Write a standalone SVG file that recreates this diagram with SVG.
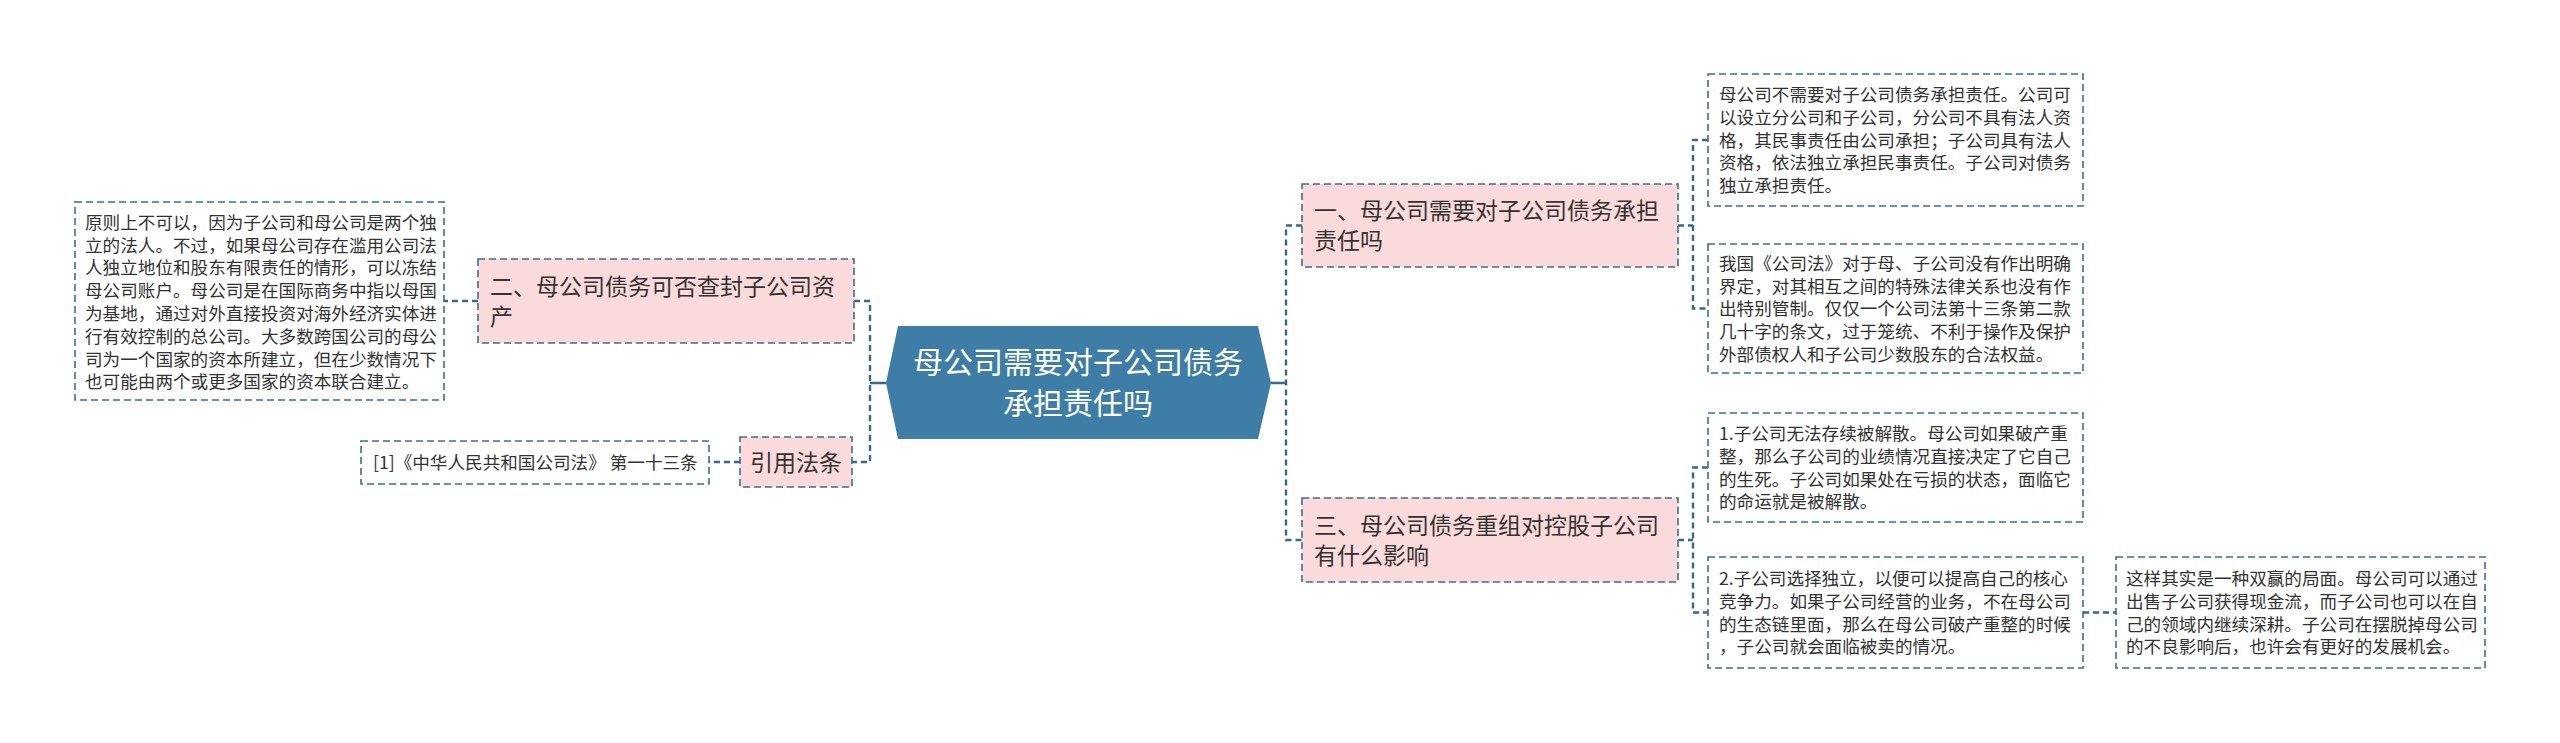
<svg xmlns="http://www.w3.org/2000/svg" width="2560" height="743" viewBox="0 0 2560 743">
<style>
text{font-family:"Noto Sans CJK SC","Noto Sans",sans-serif;fill:#333}
.t{font-size:17.6px}
.h{font-size:23px}
.c{font-size:30px;fill:#fff}
.box{fill:#fff;stroke:#3a6f92;stroke-width:1.6;stroke-dasharray:7 4}
.pk{fill:#fadada;stroke:#3a6f92;stroke-width:1.6;stroke-dasharray:7 4}
.ln{fill:none;stroke:#35698e;stroke-width:2.4;stroke-dasharray:6 4}
.sl{fill:none;stroke:#35698e;stroke-width:2.4}
</style>
<rect width="2560" height="743" fill="#fff"/>
<g id="connectors">
<path class="sl" d="M886 383H870M1271 383H1286"/>
<path class="ln" d="M854 301H870V462H852M870 301"/>
<path class="ln" d="M478 301H444"/>
<path class="ln" d="M740 462H709"/>
<path class="ln" d="M1302 225.5H1286V540H1302"/>
<path class="ln" d="M1678 225.5H1693M1708 140H1693V308.5H1708"/>
<path class="ln" d="M1678 540H1693M1708 467.5H1693V612.5H1708"/>
<path class="ln" d="M2083 612.5H2116"/>
</g>
<g id="root">
<polygon points="898,326 1258,326 1271,383 1258,439 898,439 886,383" fill="#3e7ea6"/>
<text class="c" x="1078" y="373" text-anchor="middle">母公司需要对子公司债务</text>
<text class="c" x="1078" y="414" text-anchor="middle">承担责任吗</text>
</g>
<g id="n2">
<rect class="pk" x="478" y="259" width="376" height="84"/>
<text class="h" x="490" y="294.7">二、母公司债务可否查封子公司资</text>
<text class="h" x="490" y="324.7">产</text>
</g>
<g id="n2a">
<rect class="box" x="75" y="202" width="369" height="198"/>
<text class="t" x="85" y="228.7">原则上不可以，因为子公司和母公司是两个独</text>
<text class="t" x="85" y="251.5">立的法人。不过，如果母公司存在滥用公司法</text>
<text class="t" x="85" y="274.3">人独立地位和股东有限责任的情形，可以冻结</text>
<text class="t" x="85" y="297.1">母公司账户。母公司是在国际商务中指以母国</text>
<text class="t" x="85" y="319.9">为基地，通过对外直接投资对海外经济实体进</text>
<text class="t" x="85" y="342.7">行有效控制的总公司。大多数跨国公司的母公</text>
<text class="t" x="85" y="365.5">司为一个国家的资本所建立，但在少数情况下</text>
<text class="t" x="85" y="388.3">也可能由两个或更多国家的资本联合建立。</text>
</g>
<g id="n4">
<rect class="pk" x="740" y="437" width="112" height="50"/>
<text class="h" x="796" y="470.7" text-anchor="middle">引用法条</text>
</g>
<g id="n4a">
<rect class="box" x="361" y="441" width="348" height="43"/>
<text class="t" x="373" y="469">[1]《中华人民共和国公司法》 第一十三条</text>
</g>
<g id="n1">
<rect class="pk" x="1302" y="184" width="376" height="83"/>
<text class="h" x="1314" y="219.2">一、母公司需要对子公司债务承担</text>
<text class="h" x="1314" y="249.2">责任吗</text>
</g>
<g id="n1a">
<rect class="box" x="1708" y="74" width="375" height="132"/>
<text class="t" x="1719" y="101.3">母公司不需要对子公司债务承担责任。公司可</text>
<text class="t" x="1719" y="124">以设立分公司和子公司，分公司不具有法人资</text>
<text class="t" x="1719" y="146.7">格，其民事责任由公司承担；子公司具有法人</text>
<text class="t" x="1719" y="169.4">资格，依法独立承担民事责任。子公司对债务</text>
<text class="t" x="1719" y="192.1">独立承担责任。</text>
</g>
<g id="n1b">
<rect class="box" x="1708" y="244" width="375" height="129"/>
<text class="t" x="1719" y="269.8">我国《公司法》对于母、子公司没有作出明确</text>
<text class="t" x="1719" y="292.5">界定，对其相互之间的特殊法律关系也没有作</text>
<text class="t" x="1719" y="315.2">出特别管制。仅仅一个公司法第十三条第二款</text>
<text class="t" x="1719" y="337.9">几十字的条文，过于笼统、不利于操作及保护</text>
<text class="t" x="1719" y="360.6">外部债权人和子公司少数股东的合法权益。</text>
</g>
<g id="n3">
<rect class="pk" x="1302" y="498" width="376" height="84"/>
<text class="h" x="1314" y="533.7">三、母公司债务重组对控股子公司</text>
<text class="h" x="1314" y="563.7">有什么影响</text>
</g>
<g id="n3a">
<rect class="box" x="1708" y="413" width="375" height="109"/>
<text class="t" x="1719" y="440.2">1.子公司无法存续被解散。母公司如果破产重</text>
<text class="t" x="1719" y="462.9">整，那么子公司的业绩情况直接决定了它自己</text>
<text class="t" x="1719" y="485.6">的生死。子公司如果处在亏损的状态，面临它</text>
<text class="t" x="1719" y="508.3">的命运就是被解散。</text>
</g>
<g id="n3b">
<rect class="box" x="1708" y="557" width="375" height="111"/>
<text class="t" x="1719" y="585.2">2.子公司选择独立，以便可以提高自己的核心</text>
<text class="t" x="1719" y="607.9">竞争力。如果子公司经营的业务，不在母公司</text>
<text class="t" x="1719" y="630.6">的生态链里面，那么在母公司破产重整的时候</text>
<text class="t" x="1719" y="653.3">，子公司就会面临被卖的情况。</text>
</g>
<g id="n3c">
<rect class="box" x="2116" y="557" width="369" height="111"/>
<text class="t" x="2126" y="585.2">这样其实是一种双赢的局面。母公司可以通过</text>
<text class="t" x="2126" y="607.9">出售子公司获得现金流，而子公司也可以在自</text>
<text class="t" x="2126" y="630.6">己的领域内继续深耕。子公司在摆脱掉母公司</text>
<text class="t" x="2126" y="653.3">的不良影响后，也许会有更好的发展机会。</text>
</g>
</svg>
